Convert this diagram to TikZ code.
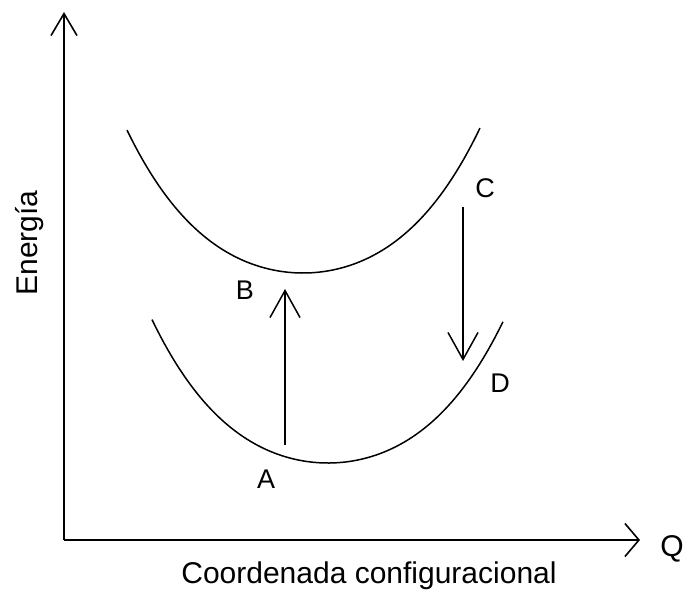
\documentclass[tikz,border=0pt]{standalone}
\usepackage{fontspec}
\setmainfont{Liberation Sans}
\usetikzlibrary{arrows.meta}
\begin{document}
\begin{tikzpicture}[x=1pt,y=-1pt,
  axisline/.style={line width=1.8pt,-{Straight Barb[length=22pt,width=26pt,line width=1.6pt]}},
  curveline/.style={line width=1.5pt},
  transarrow/.style={line width=1.5pt,-{Straight Barb[length=27pt,width=30pt,line width=1.5pt]}},
  lbl/.style={font=\fontsize{27}{30}\selectfont,inner sep=0pt},
  axlbl/.style={font=\fontsize{30}{33}\selectfont,inner sep=0pt}]
\useasboundingbox (0,0) rectangle (687,595);
% axes
\coordinate (O) at (64,540);
\coordinate (Ytop) at (64,12);
\coordinate (Xend) at (640,540);
\draw[axisline] (O) -- (Ytop);
\draw[line width=1.8pt,-{Straight Barb[length=14pt,width=33pt,line width=1.6pt]}] (O) -- (Xend);
% curves
\draw[curveline] plot[domain=-1.76:1.77,samples=90] ({303+100*\x},{273-33.6*\x*\x-4.05*\x*\x*\x*\x});
\draw[curveline] plot[domain=-1.76:1.75,samples=90] ({328+100*\x},{463-33.6*\x*\x-4.1*\x*\x*\x*\x});
% transitions
\coordinate (Astart) at (285,445);
\coordinate (Bend) at (285,289);
\coordinate (Cstart) at (463,207);
\coordinate (Dend) at (463,361);
\draw[transarrow] (Astart) -- (Bend);
\draw[transarrow] (Cstart) -- (Dend);
% labels
\node[lbl] (A) at (266,479) {A};
\node[lbl] (B) at (245,290) {B};
\node[lbl] (C) at (485,188) {C};
\node[lbl] (D) at (500,383) {D};
\node[axlbl] (Q) at (672,549) {Q};
\node[axlbl] (xl) at (369,576) {Coordenada configuracional};
\node[axlbl,rotate=90] (yl) at (30,243) {Energía};
\end{tikzpicture}
\end{document}
